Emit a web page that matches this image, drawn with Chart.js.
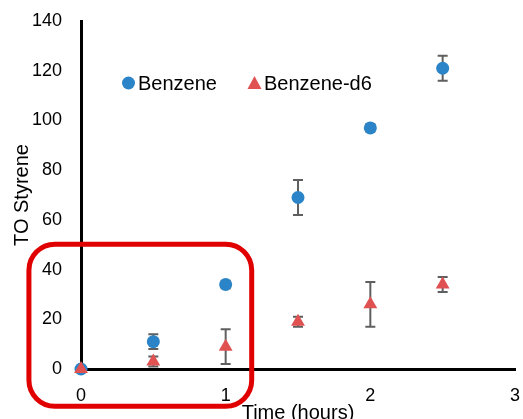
<!DOCTYPE html>
<html>
<head>
<meta charset="utf-8">
<script src="https://cdn.jsdelivr.net/npm/chart.js@4/dist/chart.umd.min.js"></script>
<style>
  html, body { margin: 0; padding: 0; background: #fff; }
  #wrap { width: 523px; height: 419px; }
</style>
</head>
<body>
<div id="wrap"><canvas id="chart" width="523" height="419"></canvas></div>
<script>
// time points (hours)
const hours = [0, 0.5, 1, 1.5, 2, 2.5];
// TO styrene and error bars
const benzene = [0, 11, 34, 69, 97, 121];
const benzeneErr = [0, 3, 1.5, 7, 1.5, 5];
const benzeneD6 = [0, 3, 9, 19, 26, 34];
const benzeneD6Err = [0, 2, 7, 2, 9, 3];
// highlighted region (data units)
const boxX = [-0.36, 1.18];
const boxY = [-15, 50.2];

const blue = '#2A84C7';
const red = '#E05252';

function toPoints(ys) {
    return hours.map((x, i) => ({ x: x, y: ys[i] }));
}

const errorBars = {
    id: 'errorBars',
    beforeDatasetsDraw(chart) {
        const ctx = chart.ctx;
        const xs = chart.scales.x, ys = chart.scales.y;
        const sets = [[benzene, benzeneErr], [benzeneD6, benzeneD6Err]];
        ctx.save();
        ctx.strokeStyle = '#5f5f5f';
        ctx.lineWidth = 2;
        sets.forEach(([vals, errs]) => {
            hours.forEach((h, i) => {
                if (!errs[i]) return;
                const px = xs.getPixelForValue(h);
                const top = ys.getPixelForValue(vals[i] + errs[i]);
                const bot = ys.getPixelForValue(vals[i] - errs[i]);
                ctx.beginPath();
                ctx.moveTo(px, top); ctx.lineTo(px, bot);
                ctx.moveTo(px - 5, top); ctx.lineTo(px + 5, top);
                ctx.moveTo(px - 5, bot); ctx.lineTo(px + 5, bot);
                ctx.stroke();
            });
        });
        ctx.restore();
    },
    afterDraw(chart) {
        const ctx = chart.ctx;
        const xs = chart.scales.x, ys = chart.scales.y;
        // legend inside the plot
        ctx.save();
        ctx.font = '20px "Liberation Sans", Arial, sans-serif';
        ctx.textBaseline = 'middle';
        ctx.fillStyle = blue;
        ctx.beginPath();
        ctx.arc(128.5, 83, 6.5, 0, Math.PI * 2);
        ctx.fill();
        ctx.fillStyle = '#000';
        ctx.fillText('Benzene', 138, 84);
        ctx.fillStyle = red;
        ctx.beginPath();
        ctx.moveTo(254.5, 76); ctx.lineTo(261.5, 89); ctx.lineTo(247.5, 89);
        ctx.closePath();
        ctx.fill();
        ctx.fillStyle = '#000';
        ctx.fillText('Benzene-d6', 264, 84);

        // red rounded box
        const l = xs.getPixelForValue(boxX[0]), r = xs.getPixelForValue(boxX[1]);
        const t = ys.getPixelForValue(boxY[1]), b = ys.getPixelForValue(boxY[0]);
        ctx.strokeStyle = '#E00000';
        ctx.lineWidth = 5;
        ctx.beginPath();
        ctx.roundRect(l, t, r - l, b - t, 26);
        ctx.stroke();
        ctx.restore();
    }
};

const ctx = document.getElementById('chart').getContext('2d');
const chart = new Chart(ctx, {
    type: 'scatter',
    data: {
        datasets: [{
            label: 'Benzene',
            data: toPoints(benzene),
            pointStyle: 'circle',
            pointRadius: 6.5,
            backgroundColor: blue,
            borderColor: blue,
            borderWidth: 0,
            clip: false,
            order: 1
        }, {
            label: 'Benzene-d6',
            data: toPoints(benzeneD6),
            pointStyle: 'triangle',
            pointRadius: 8,
            backgroundColor: red,
            borderColor: red,
            borderWidth: 0,
            clip: false,
            order: 0
        }]
    },
    options: {
        responsive: false,
        animation: false,
        events: [],
        layout: { padding: { top: 21, right: 8, left: 0, bottom: 0 } },
        plugins: { legend: { display: false }, tooltip: { enabled: false } },
        scales: {
            x: {
                type: 'linear',
                min: 0, max: 3,
                grid: { display: false, drawTicks: false },
                border: { color: '#000', width: 3 },
                ticks: { stepSize: 1, padding: 16, color: '#000', font: { family: '"Liberation Sans", Arial', size: 18 } },
                title: { display: true, text: 'Time (hours)', color: '#000', padding: { top: 0, bottom: -6 }, font: { family: '"Liberation Sans", Arial', size: 20 } },
                afterFit: scale => {
                    scale.height = 50;
                    scale.paddingLeft = 0;
                    scale.paddingRight = 0;
                }
            },
            y: {
                min: 0, max: 140,
                grid: { display: false, drawTicks: false },
                border: { color: '#000', width: 3 },
                ticks: { stepSize: 20, padding: 19, color: '#000', font: { family: '"Liberation Sans", Arial', size: 18 } },
                title: { display: true, text: 'TO Styrene', color: '#000', padding: { top: 10, bottom: 0 }, font: { family: '"Liberation Sans", Arial', size: 20 } },
                afterFit: scale => {
                    scale.width = 81;
                    scale.paddingTop = 0;
                    scale.paddingBottom = 0;
                }
            }
        }
    },
    plugins: [errorBars]
});
</script>
</body>
</html>
